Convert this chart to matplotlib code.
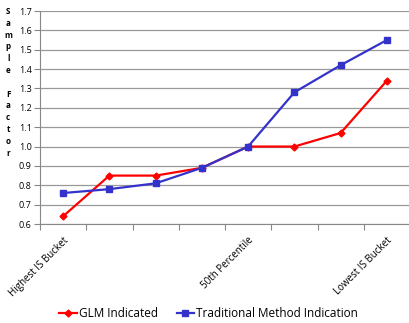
import numpy as np
import matplotlib
matplotlib.use("Agg")
import matplotlib.pyplot as plt

# data
categories = ["Highest IS Bucket", "", "", "", "50th Percentile", "", "", "Lowest IS Bucket"]
glm = [0.64, 0.85, 0.85, 0.89, 1.00, 1.00, 1.07, 1.34]
traditional = [0.76, 0.78, 0.81, 0.89, 1.00, 1.28, 1.42, 1.55]
yticks = [0.6, 0.7, 0.8, 0.9, 1.0, 1.1, 1.2, 1.3, 1.4, 1.5, 1.6, 1.7]

plt.rcParams['font.family'] = ['Open Sans', 'DejaVu Sans']

fig = plt.figure(figsize=(4.09, 3.23), dpi=100)
ax = fig.add_axes([40 / 409, 1 - 224 / 323, 370 / 409, 213 / 323])

x = np.arange(len(categories))
ax.plot(x, glm, color='#ff0000', lw=1.6, marker='D', ms=3.5, label='GLM Indicated', zorder=3)
ax.plot(x, traditional, color='#3333cc', lw=1.6, marker='s', ms=4.5, label='Traditional Method Indication', zorder=3)

ax.set_xlim(-0.5, len(categories) - 0.5)
ax.set_ylim(0.6, 1.7)
ax.set_yticks(yticks)
ax.set_yticklabels([f"{v:.1f}" for v in yticks], fontsize=6.5)
ax.yaxis.grid(True, color='#999999', lw=0.9)
ax.set_axisbelow(True)

# category boundaries get the tick marks, labels sit on the points
ax.set_xticks(np.arange(len(categories) + 1) - 0.5)
ax.set_xticklabels([])
ax.set_xticks(x, minor=True)
ax.set_xticklabels(categories, minor=True, rotation=45, ha='right', rotation_mode='anchor', fontsize=7)
ax.tick_params(axis='x', which='minor', length=0, pad=8)
ax.tick_params(axis='x', which='major', length=4, color='#888888')
ax.tick_params(axis='y', length=4, color='#888888', pad=2)

for side in ['top', 'right']:
    ax.spines[side].set_visible(False)
for side in ['left', 'bottom']:
    ax.spines[side].set_color('#888888')

fig.text(0.02, 1 - 7 / 323, "\n".join("Sample Factor"), fontsize=5.8, fontweight='bold',
         va='top', ha='center', linespacing=1.4)

fig.legend(loc='lower center', bbox_to_anchor=(0.51, -0.025), ncol=2, frameon=False,
           fontsize=8.5, handlelength=1.5, columnspacing=1.6, handletextpad=0.15)

fig.savefig('out.png', dpi=100)
